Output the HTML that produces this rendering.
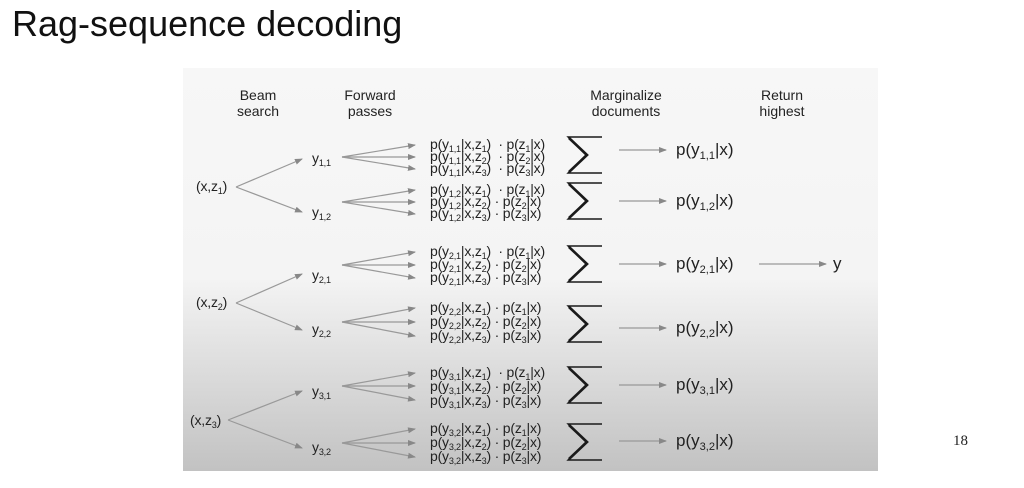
<!DOCTYPE html>
<html><head><meta charset="utf-8"><style>
body{margin:0;width:1024px;height:488px;background:#fff;position:relative;overflow:hidden;font-family:"Liberation Sans",sans-serif;color:#222}
.t{position:absolute;white-space:nowrap;line-height:1}
sub{font-size:65%;vertical-align:-0.35em;line-height:0}
.panel{position:absolute;left:183px;top:68px;width:695px;height:403px;background:linear-gradient(#f7f7f7 0%,#f4f4f4 52%,#dcdcdc 75%,#c2c2c2 100%)}
.h{font-size:14px;text-align:center;line-height:16px;position:absolute}
.f{font-size:14px;letter-spacing:-0.2px}
.r{font-size:17px}
</style></head><body>
<div class="t" style="left:12px;top:6px;font-size:36px;color:#111">Rag-sequence decoding</div>
<div class="t" style="left:953px;top:434px;font-size:15px;font-family:'Liberation Serif',serif">18</div>
<div class="panel"></div>
<div class="h" style="left:218px;top:87px;width:80px">Beam<br>search</div>
<div class="h" style="left:325px;top:87px;width:90px">Forward<br>passes</div>
<div class="h" style="left:571px;top:87px;width:110px">Marginalize<br>documents</div>
<div class="h" style="left:742px;top:87px;width:80px">Return<br>highest</div>

<svg style="position:absolute;left:0;top:0" width="1024" height="488">
<defs><marker id="a" markerWidth="8" markerHeight="6" refX="7" refY="3" orient="auto" markerUnits="userSpaceOnUse"><path d="M0,0L8,3L0,6z" fill="#888"/></marker>
<g id="sg"><path d="M602,-18 L568,-18 L586,0 L568,18 L602,18" fill="none" stroke="#1a1a1a" stroke-width="1.4"/><path d="M569,-17 L587,0 L569,17" fill="none" stroke="#1a1a1a" stroke-width="2.6"/></g></defs>
<g stroke="#999" stroke-width="1.2" fill="none" marker-end="url(#a)">
<line x1="236" y1="187" x2="302" y2="159"/><line x1="236" y1="187" x2="302" y2="212"/>
<line x1="236" y1="303" x2="302" y2="274"/><line x1="236" y1="303" x2="302" y2="330"/>
<line x1="228" y1="420" x2="302" y2="391"/><line x1="228" y1="420" x2="302" y2="448"/>
<line x1="342" y1="157" x2="415" y2="145"/><line x1="342" y1="157" x2="415" y2="157"/><line x1="342" y1="157" x2="415" y2="169"/>
<line x1="342" y1="202" x2="415" y2="190"/><line x1="342" y1="202" x2="415" y2="202"/><line x1="342" y1="202" x2="415" y2="214"/>
<line x1="342" y1="265" x2="415" y2="252"/><line x1="342" y1="265" x2="415" y2="265"/><line x1="342" y1="265" x2="415" y2="278"/>
<line x1="342" y1="322" x2="415" y2="308"/><line x1="342" y1="322" x2="415" y2="322"/><line x1="342" y1="322" x2="415" y2="336"/>
<line x1="342" y1="386" x2="415" y2="373"/><line x1="342" y1="386" x2="415" y2="386"/><line x1="342" y1="386" x2="415" y2="400"/>
<line x1="342" y1="443" x2="415" y2="429"/><line x1="342" y1="443" x2="415" y2="443"/><line x1="342" y1="443" x2="415" y2="457"/>
<line x1="619" y1="150" x2="666" y2="150"/><line x1="619" y1="201" x2="666" y2="201"/>
<line x1="619" y1="264" x2="666" y2="264"/><line x1="619" y1="328" x2="666" y2="328"/>
<line x1="619" y1="385" x2="666" y2="385"/><line x1="619" y1="441" x2="666" y2="441"/>
<line x1="759" y1="264" x2="826" y2="264"/>
</g>
<use href="#sg" y="155"/><use href="#sg" y="201"/><use href="#sg" y="264"/>
<use href="#sg" y="324"/><use href="#sg" y="385"/><use href="#sg" y="442"/>
</svg>

<div class="t f" style="left:196px;top:179px">(x,z<sub>1</sub>)</div>
<div class="t f" style="left:196px;top:295px">(x,z<sub>2</sub>)</div>
<div class="t f" style="left:190px;top:413px">(x,z<sub>3</sub>)</div>
<div class="t f" style="left:312px;top:151px">y<sub>1,1</sub></div>
<div class="t f" style="left:312px;top:205px">y<sub>1,2</sub></div>
<div class="t f" style="left:312px;top:268px">y<sub>2,1</sub></div>
<div class="t f" style="left:312px;top:322px">y<sub>2,2</sub></div>
<div class="t f" style="left:312px;top:384px">y<sub>3,1</sub></div>
<div class="t f" style="left:312px;top:440px">y<sub>3,2</sub></div>

<div class="t f" style="left:430px;top:137px">p(y<sub>1,1</sub>|x,z<sub>1</sub>) &nbsp;· p(z<sub>1</sub>|x)</div>
<div class="t f" style="left:430px;top:149px">p(y<sub>1,1</sub>|x,z<sub>2</sub>) &nbsp;· p(z<sub>2</sub>|x)</div>
<div class="t f" style="left:430px;top:161px">p(y<sub>1,1</sub>|x,z<sub>3</sub>) &nbsp;· p(z<sub>3</sub>|x)</div>
<div class="t f" style="left:430px;top:182px">p(y<sub>1,2</sub>|x,z<sub>1</sub>) &nbsp;· p(z<sub>1</sub>|x)</div>
<div class="t f" style="left:430px;top:194px">p(y<sub>1,2</sub>|x,z<sub>2</sub>) · p(z<sub>2</sub>|x)</div>
<div class="t f" style="left:430px;top:206px">p(y<sub>1,2</sub>|x,z<sub>3</sub>) · p(z<sub>3</sub>|x)</div>
<div class="t f" style="left:430px;top:244px">p(y<sub>2,1</sub>|x,z<sub>1</sub>) &nbsp;· p(z<sub>1</sub>|x)</div>
<div class="t f" style="left:430px;top:257px">p(y<sub>2,1</sub>|x,z<sub>2</sub>) · p(z<sub>2</sub>|x)</div>
<div class="t f" style="left:430px;top:270px">p(y<sub>2,1</sub>|x,z<sub>3</sub>) · p(z<sub>3</sub>|x)</div>
<div class="t f" style="left:430px;top:300px">p(y<sub>2,2</sub>|x,z<sub>1</sub>) · p(z<sub>1</sub>|x)</div>
<div class="t f" style="left:430px;top:314px">p(y<sub>2,2</sub>|x,z<sub>2</sub>) · p(z<sub>2</sub>|x)</div>
<div class="t f" style="left:430px;top:328px">p(y<sub>2,2</sub>|x,z<sub>3</sub>) · p(z<sub>3</sub>|x)</div>
<div class="t f" style="left:430px;top:365px">p(y<sub>3,1</sub>|x,z<sub>1</sub>) &nbsp;· p(z<sub>1</sub>|x)</div>
<div class="t f" style="left:430px;top:379px">p(y<sub>3,1</sub>|x,z<sub>2</sub>) · p(z<sub>2</sub>|x)</div>
<div class="t f" style="left:430px;top:393px">p(y<sub>3,1</sub>|x,z<sub>3</sub>) · p(z<sub>3</sub>|x)</div>
<div class="t f" style="left:430px;top:421px">p(y<sub>3,2</sub>|x,z<sub>1</sub>) · p(z<sub>1</sub>|x)</div>
<div class="t f" style="left:430px;top:435px">p(y<sub>3,2</sub>|x,z<sub>2</sub>) · p(z<sub>2</sub>|x)</div>
<div class="t f" style="left:430px;top:449px">p(y<sub>3,2</sub>|x,z<sub>3</sub>) · p(z<sub>3</sub>|x)</div>

<div class="t r" style="left:676px;top:141px">p(y<sub>1,1</sub>|x)</div>
<div class="t r" style="left:676px;top:192px">p(y<sub>1,2</sub>|x)</div>
<div class="t r" style="left:676px;top:255px">p(y<sub>2,1</sub>|x)</div>
<div class="t r" style="left:676px;top:319px">p(y<sub>2,2</sub>|x)</div>
<div class="t r" style="left:676px;top:376px">p(y<sub>3,1</sub>|x)</div>
<div class="t r" style="left:676px;top:432px">p(y<sub>3,2</sub>|x)</div>
<div class="t r" style="left:833px;top:255px">y</div>
</body></html>
